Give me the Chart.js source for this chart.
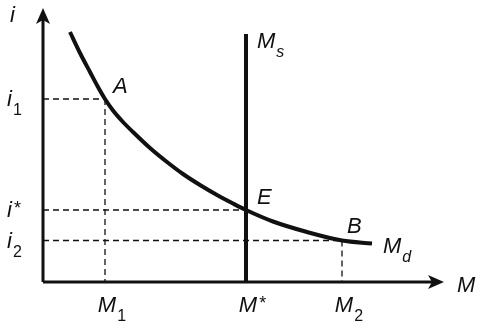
<!DOCTYPE html>
<html>
<head>
<meta charset="utf-8">
<script src="https://cdn.jsdelivr.net/npm/chart.js@4.4.1/dist/chart.umd.min.js"></script>
<style>
  html, body { margin: 0; padding: 0; background: #fff; }
  canvas { display: block; }
</style>
</head>
<body>
<canvas id="chart" width="482" height="329"></canvas>
<script>
// money demand curve M_d (x = quantity of money, y = interest rate)
const mdM = [27, 37, 47, 55, 62, 70, 80, 90, 107, 124, 140, 157, 174, 190, 203, 230, 264, 299, 329];
const mdI = [250, 229, 210, 195, 183, 171.5, 160, 150, 134, 120, 108, 97, 87, 78.5, 72, 60.5, 50, 41.5, 38.5];

// vertical money supply M_s at M*
const msM = 203;
const msTop = 248;

// marked points A, E, B
const pointNames = ['A', 'E', 'B'];
const pointM = [62, 203, 299];
const pointI = [183, 72, 41.5];

// tick labels ( _ = subscript, ^ = superscript )
const mTickLabels = ['M_1', 'M^*', 'M_2'];
const iTickLabels = ['i_1', 'i^*', 'i_2'];

// axis ends
const axisMaxM = 401;
const axisMaxI = 274;

const ink = '#111';
const FONT = '"Liberation Sans", Arial, Helvetica, sans-serif';

function xy(ms, is) {
  return ms.map((m, k) => ({ x: m, y: is[k] }));
}

function line(data, width, dash) {
  return {
    data: data,
    showLine: true,
    borderColor: ink,
    borderWidth: width,
    borderDash: dash || [],
    pointRadius: 0,
    fill: false
  };
}

const datasets = [
  // axes
  line([{ x: 0, y: 0 }, { x: 0, y: axisMaxI - 8 }], 3),
  line([{ x: 0, y: 0 }, { x: axisMaxM - 8, y: 0 }], 3),
  // M_s
  line([{ x: msM, y: 0 }, { x: msM, y: msTop }], 4),
  // M_d
  Object.assign(line(xy(mdM, mdI), 4), { cubicInterpolationMode: 'monotone' })
];
// dashed guides to each point
pointM.forEach((m, k) => {
  datasets.push(line([{ x: 0, y: pointI[k] }, { x: m, y: pointI[k] }], 1.3, [6, 4]));
  datasets.push(line([{ x: m, y: pointI[k] }, { x: m, y: 0 }], 1.3, [6, 4]));
});

function drawLabel(ctx, text, px, py, align) {
  const parts = text.match(/^([^_^]+)([_^])?(.*)$/);
  const main = parts[1], kind = parts[2], extra = parts[3];
  ctx.font = 'italic 22px ' + FONT;
  const w = ctx.measureText(main).width;
  const x0 = align === 'center' ? px - w / 2 : px;
  ctx.fillText(main, x0, py);
  if (!kind) return;
  const italic = /[a-z]/i.test(extra) ? 'italic ' : '';
  if (kind === '_') {
    ctx.font = italic + '16px ' + FONT;
    ctx.fillText(extra, x0 + w + 1, py + 9);
  } else {
    ctx.font = '18px ' + FONT;
    ctx.fillText(extra, x0 + w + 2, py - 3);
  }
}

function arrow(ctx, px, py, dir) {
  ctx.save();
  ctx.translate(px, py);
  if (dir === 'up') ctx.rotate(-Math.PI / 2);
  ctx.beginPath();
  ctx.moveTo(0, 0);
  ctx.lineTo(-16, -7);
  ctx.lineTo(-12, 0);
  ctx.lineTo(-16, 7);
  ctx.closePath();
  ctx.fill();
  ctx.restore();
}

const annotate = {
  id: 'annotate',
  afterDatasetsDraw(chart) {
    const { ctx, scales: { x, y } } = chart;
    ctx.save();
    ctx.fillStyle = ink;
    ctx.textAlign = 'left';
    ctx.textBaseline = 'alphabetic';

    const x0 = x.getPixelForValue(0);
    const y0 = y.getPixelForValue(0);
    arrow(ctx, x0, y.getPixelForValue(axisMaxI), 'up');
    arrow(ctx, x.getPixelForValue(axisMaxM), y0, 'right');

    // axis names
    drawLabel(ctx, 'i', x0 - 33, y.getPixelForValue(axisMaxI) + 14, 'left');
    drawLabel(ctx, 'M', x.getPixelForValue(axisMaxM) + 13, y0 + 10, 'left');

    // tick labels
    iTickLabels.forEach((t, k) => drawLabel(ctx, t, x0 - 36, y.getPixelForValue(pointI[k]) + 7, 'left'));
    mTickLabels.forEach((t, k) => drawLabel(ctx, t, x.getPixelForValue(pointM[k]) + 2, y0 + 30, 'center'));

    // point names
    const offs = [[8, -6], [11, -6], [5, -8]];
    pointNames.forEach((n, k) => drawLabel(ctx, n,
      x.getPixelForValue(pointM[k]) + offs[k][0], y.getPixelForValue(pointI[k]) + offs[k][1], 'left'));

    // curve names
    drawLabel(ctx, 'M_s', x.getPixelForValue(msM) + 11, y.getPixelForValue(msTop) + 14, 'left');
    const last = mdM.length - 1;
    drawLabel(ctx, 'M_d', x.getPixelForValue(mdM[last]) + 11, y.getPixelForValue(mdI[last]) + 9, 'left');
    ctx.restore();
  }
};

new Chart(document.getElementById('chart'), {
  type: 'scatter',
  data: { datasets: datasets },
  options: {
    responsive: false,
    animation: false,
    layout: { padding: 0 },
    plugins: { legend: { display: false }, tooltip: { enabled: false } },
    scales: {
      x: { type: 'linear', display: false, min: -43, max: 439 },
      y: { type: 'linear', display: false, min: -47, max: 282 }
    }
  },
  plugins: [annotate]
});
</script>
</body>
</html>
